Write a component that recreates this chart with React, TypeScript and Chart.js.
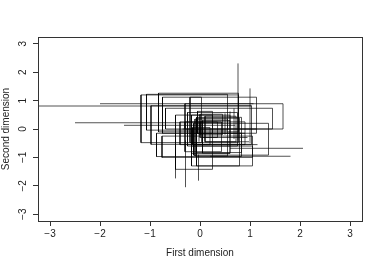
import React, { useEffect, useRef } from 'react';
import { Chart, registerables } from 'chart.js';

Chart.register(...registerables);

const tickValues = [-3, -2, -1, 0, 1, 2, 3];
const xTitle = 'First dimension';
const yTitle = 'Second dimension';

// Rectangles (interval data): x lower/upper, y lower/upper
const rectXLo = [-1.18, -1.07, -0.83, -0.98, -0.75, -0.69, -0.30, -0.20, -0.87, -0.76, -0.49, -0.07, -0.17, -0.13, -0.07, -0.17, -0.30, -0.05, 0.00, -0.10, -0.40, 0.10, 0.00, -0.15, 0.05, -0.25];
const rectXHi = [0.77, 0.55, 0.77, 1.03, 1.13, 1.45, 1.66, 0.03, 0.83, 1.05, 0.25, 0.79, 1.05, 1.37, 0.83, 0.60, 0.43, 0.25, 0.45, 0.55, 0.90, 0.72, 0.35, 0.20, 0.60, 0.75];
const rectYLo = [-0.48, -0.04, -0.10, -0.54, -0.15, 0.00, 0.00, -0.48, -0.97, -1.00, -1.42, -1.30, -1.30, -0.92, -0.83, -0.86, -0.80, -0.15, -0.20, -0.95, -0.55, -0.45, -0.30, -0.55, -0.85, -0.60];
const rectYHi = [1.20, 1.22, 1.26, 0.82, 1.12, 0.73, 0.89, 1.12, -0.15, -0.25, 0.49, 0.38, -0.60, 0.20, 0.41, 0.49, 0.25, 0.62, 0.52, 0.35, 0.25, 0.45, 0.25, 0.05, 0.30, 0.58];

// Vertical segments: x, y lower, y upper
const vSegX = [0.76, 1.00, -0.49, -0.29, -0.03, 0.60, 0.68, 0.50, -0.02];
const vSegYLo = [-0.40, -0.50, -1.74, -2.05, -1.82, -0.30, -0.35, -0.20, -0.45];
const vSegYHi = [2.31, 1.43, -0.60, -0.40, -0.90, 0.62, 0.73, 0.55, 0.35];

// Horizontal segments: y, x lower, x upper
const hSegY = [0.81, 0.89, 0.22, 0.13, -0.68, -0.96, 0.00, -0.15, -0.30, -0.45, -0.55];
const hSegXLo = [-3.40, -2.00, -2.50, -1.52, 0.60, 0.20, -0.35, -0.20, 0.05, 0.10, -0.05];
const hSegXHi = [1.03, 1.07, 0.45, 0.70, 2.06, 1.81, 1.13, 0.90, 0.95, 0.98, 1.15];

const LINE = 'rgba(0,0,0,0.68)';

const boxPlugin = {
  id: 'box',
  afterDraw(chart: any) {
    const { ctx, chartArea } = chart;
    ctx.save();
    ctx.strokeStyle = '#333';
    ctx.lineWidth = 1;
    ctx.strokeRect(Math.round(chartArea.left) + 0.5, Math.round(chartArea.top) + 0.5,
      Math.round(chartArea.right - chartArea.left), Math.round(chartArea.bottom - chartArea.top));
    ctx.restore();
  },
};

export default function App() {
  const ref = useRef<HTMLCanvasElement>(null);
  useEffect(() => {
    if (!ref.current) return;
    const datasets: any[] = [];
    rectXLo.forEach((_, i) => {
      datasets.push({
        data: [
          { x: rectXLo[i], y: rectYLo[i] },
          { x: rectXHi[i], y: rectYLo[i] },
          { x: rectXHi[i], y: rectYHi[i] },
          { x: rectXLo[i], y: rectYHi[i] },
          { x: rectXLo[i], y: rectYLo[i] },
        ],
      });
    });
    vSegX.forEach((_, i) => {
      datasets.push({ data: [{ x: vSegX[i], y: vSegYLo[i] }, { x: vSegX[i], y: vSegYHi[i] }] });
    });
    hSegY.forEach((_, i) => {
      datasets.push({ data: [{ x: hSegXLo[i], y: hSegY[i] }, { x: hSegXHi[i], y: hSegY[i] }] });
    });
    datasets.forEach((d) => {
      d.showLine = true;
      d.pointRadius = 0;
      d.borderColor = LINE;
      d.borderWidth = 1;
      d.fill = false;
      d.tension = 0;
    });
    const fmt = (v: any) => String(v).replace('-', '\u2212');
    const setTicks = (s: any) => { s.ticks = tickValues.map((v) => ({ value: v })); };
    const chart = new Chart(ref.current, {
      type: 'scatter',
      data: { datasets },
      options: {
        animation: false,
        responsive: false,
        events: [],
        layout: { padding: { top: 37, right: 20, left: 0, bottom: 0 } },
        plugins: { legend: { display: false }, tooltip: { enabled: false } },
        font: { family: 'Liberation Sans, Arial, sans-serif', size: 10 },
        scales: {
          x: {
            type: 'linear',
            min: -3.24,
            max: 3.24,
            afterBuildTicks: setTicks,
            afterFit: (s: any) => { s.height = 48; },
            grid: { display: true, drawOnChartArea: false, drawTicks: true, tickLength: 5, color: '#333' },
            border: { display: false },
            ticks: { callback: fmt, padding: 2, color: '#222', maxRotation: 0, minRotation: 0, autoSkip: false,
              font: { family: 'Liberation Sans, Arial, sans-serif', size: 10 } },
            title: { display: true, text: xTitle, color: '#222', padding: { top: 0, bottom: 10 },
              font: { family: 'Liberation Sans, Arial, sans-serif', size: 10 } },
          },
          y: {
            type: 'linear',
            min: -3.24,
            max: 3.24,
            afterBuildTicks: setTicks,
            afterFit: (s: any) => { s.width = 38; },
            grid: { display: true, drawOnChartArea: false, drawTicks: true, tickLength: 5, color: '#333' },
            border: { display: false },
            ticks: { callback: fmt, padding: 4, color: '#222', minRotation: 90, maxRotation: 90, crossAlign: 'center', autoSkip: false,
              font: { family: 'Liberation Sans, Arial, sans-serif', size: 10 } },
            title: { display: true, text: yTitle, color: '#222', padding: { top: 0, bottom: 0 },
              font: { family: 'Liberation Sans, Arial, sans-serif', size: 10 } },
          },
        },
      } as any,
      plugins: [boxPlugin],
    });
    return () => chart.destroy();
  }, []);
  return (
    <div style={{ position: 'fixed', left: 0, top: 0, width: 382, height: 269, background: '#fff' }}>
      <canvas ref={ref} width={382} height={269} />
    </div>
  );
}
